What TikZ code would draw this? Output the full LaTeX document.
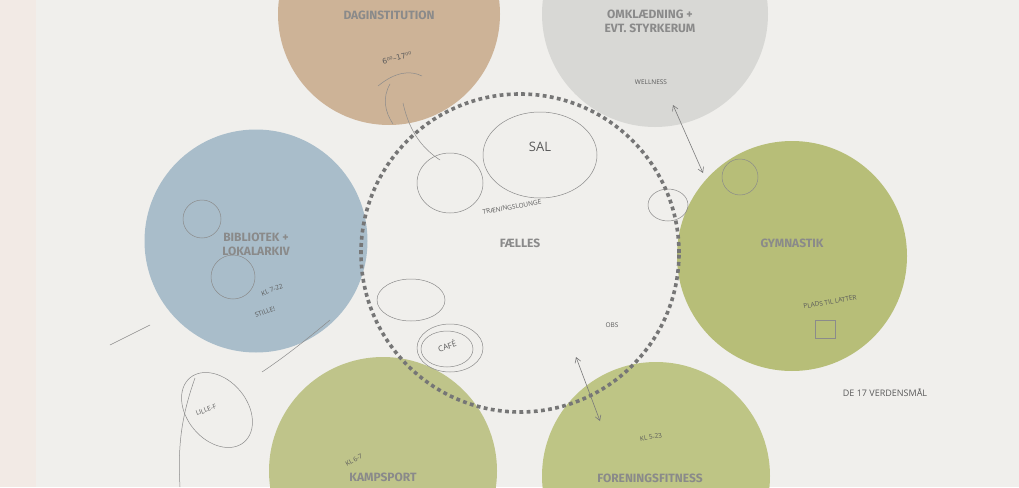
\documentclass[tikz,border=0pt]{standalone}
\usepackage{fontspec}
\setmainfont{Fira Sans}
\newfontfamily\handfont{Open Sans}
\newfontfamily\supfont{DejaVu Sans}
\usetikzlibrary{arrows.meta}
\definecolor{bgpaper}{HTML}{F0EFEC}
\definecolor{bgstrip}{HTML}{F2EAE5}
\definecolor{cdag}{HTML}{CDB397}
\definecolor{comk}{HTML}{D8D8D5}
\definecolor{cbib}{HTML}{A9BDCA}
\definecolor{cgym}{HTML}{B7BE78}
\definecolor{ckamp}{HTML}{BFC48A}
\definecolor{cfit}{HTML}{BEC585}
\definecolor{labelgray}{HTML}{8A8A8A}
\definecolor{dashgray}{HTML}{767676}
\definecolor{pencil}{HTML}{5A5A5A}
\tikzset{
  zone/.style={circle, draw=none, minimum size=#1, inner sep=0pt},
  zonelabel/.style={text=labelgray, font=\fontsize{12}{14}\selectfont\bfseries, align=center, inner sep=0pt},
  hand/.style={text=pencil, font=\handfont\fontsize{6.5}{8}\selectfont, inner sep=0pt, align=center},
  sketch/.style={draw=pencil!70, line width=0.5pt},
  sketcharrow/.style={draw=pencil!80, line width=0.6pt, {Straight Barb[length=5pt,width=6pt]}-{Straight Barb[length=5pt,width=6pt]}},
  faelles/.style={circle, draw=dashgray, line width=3.6pt, dash pattern=on 3.8pt off 3.4pt, minimum size=318pt, inner sep=0pt}
}
\begin{document}
\begin{tikzpicture}[x=1pt,y=-1pt]
\useasboundingbox (0,0) rectangle (1019,487);
\fill[bgpaper] (0,0) rectangle (1019,487);
\fill[bgstrip] (0,0) rectangle (36,487);
\begin{scope}
\clip (0,0) rectangle (1019,487);
% zone circles
\node[zone=222pt, fill=cdag] (dag) at (389,14) {};
\node[zone=226pt, fill=comk] (omk) at (655,14) {};
\node[zone=223pt, fill=cbib] (bib) at (256,241) {};
\node[zone=230pt, fill=cgym] (gym) at (792,256) {};
\node[zone=228pt, fill=ckamp] (kamp) at (383,471) {};
\node[zone=228pt, fill=cfit] (fit) at (656,476) {};
% handwritten ellipses
\draw[sketch] (540,155) ellipse [x radius=57, y radius=43];
\draw[sketch] (450,183) ellipse [x radius=33, y radius=30];
\draw[sketch] (411,300) ellipse [x radius=34, y radius=21];
\draw[sketch] (450,348) ellipse [x radius=33, y radius=24];
\draw[sketch] (447,349) ellipse [x radius=26, y radius=18];
\draw[sketch, rotate around={-50:(217,410)}] (217,410) ellipse [x radius=42, y radius=30];
\draw[sketch] (202,219) circle [radius=19];
\draw[sketch] (233,277) circle [radius=22];
\draw[sketch] (740,177) circle [radius=18];
\draw[sketch] (668,205) ellipse [x radius=20, y radius=16];
% sketch lines
\draw[sketch] (378,86) .. controls (395,72) and (410,70) .. (422,76);
\draw[sketch] (390,84) .. controls (382,98) and (385,112) .. (393,124);
\draw[sketch] (403,103) .. controls (410,135) and (425,150) .. (440,160);
\draw[sketch] (195,378) .. controls (180,420) and (178,450) .. (180,487);
\draw[sketch] (150,325) -- (110,345);
\draw[sketch] (330,320) .. controls (300,345) and (280,360) .. (262,372);
\end{scope}
% dashed common zone on top
\node[faelles] (fael) at (520,253) {};
% two-way arrows
\coordinate (omkA) at (673,105);
\coordinate (gymA) at (703,173);
\coordinate (faelA) at (576,357);
\coordinate (fitA) at (600,421);
\draw[sketcharrow] (omkA) -- (gymA);
\draw[sketcharrow] (faelA) -- (fitA);
% printed labels
\node[zonelabel] (tdag) at (389,15) {DAGINSTITUTION};
\node[zonelabel] (tomk) at (650,21) {OMKLÆDNING +\\EVT. STYRKERUM};
\node[zonelabel] (tbib) at (256,244) {BIBLIOTEK +\\LOKALARKIV};
\node[zonelabel] (tgym) at (792,243) {GYMNASTIK};
\node[zonelabel] (tkamp) at (383,477) {KAMPSPORT};
\node[zonelabel] (tfit) at (650,478) {FORENINGSFITNESS};
\node[zonelabel] (tfael) at (520,243) {FÆLLES};
% legible handwritten notes
\node[hand, font=\supfont\fontsize{7.5}{9}\selectfont, rotate=15] (h1) at (397,58) {6⁰⁰–17⁰⁰};
\node[hand, font=\handfont\fontsize{13}{14}\selectfont] (h2) at (540,147) {SAL};
\node[hand] (h3) at (651,82) {WELLNESS};
\node[hand, font=\handfont\fontsize{8}{9}\selectfont, rotate=20] (h4) at (447,346) {CAFÉ};
\node[hand, rotate=20] (h5) at (272,290) {KL 7-22};
\node[hand, rotate=20] (h6) at (265,312) {STILLE!};
\node[hand, rotate=10] (h7) at (651,437) {KL 5-23};
\node[hand, rotate=30] (h8) at (354,460) {KL 6-7};
\node[hand] (h9) at (612,325) {OBS};
\node[hand, font=\handfont\fontsize{9}{10}\selectfont] (h10) at (885,393) {DE 17 VERDENSMÅL};
\node[hand, rotate=10] (h11) at (512,207) {TRÆNINGSLOUNGE};
\node[hand, rotate=10] (h12) at (830,302) {PLADS TIL LATTER};
\node[hand, rotate=20] (h13) at (206,410) {LILLE-F};
\draw[sketch] (815,320) rectangle (835,338);
\end{tikzpicture}
\end{document}
